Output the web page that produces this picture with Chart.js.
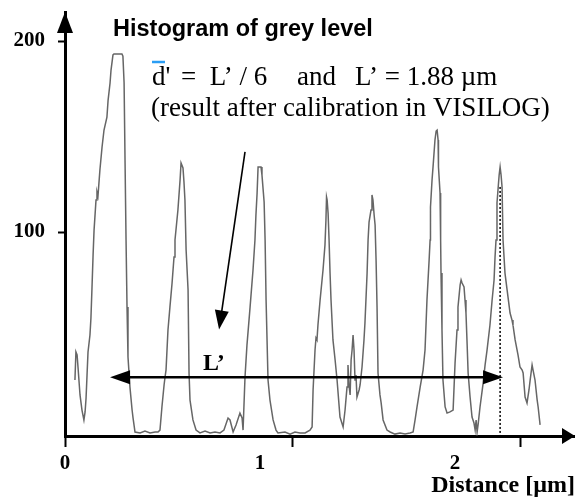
<!DOCTYPE html>
<html>
<head>
<meta charset="utf-8">
<script src="https://cdn.jsdelivr.net/npm/chart.js@4.4.0/dist/chart.umd.min.js"></script>
<style>
  html, body { margin: 0; padding: 0; background: #fff; }
  #wrap { width: 575px; height: 501px; }
</style>
</head>
<body>
<div id="wrap"><canvas id="histo"></canvas></div>
<script>
// profile position, µm
const distance = [
  0.051, 0.056, 0.062, 0.067, 0.077, 0.087, 0.097, 0.103, 0.108, 0.113,
  0.118, 0.128, 0.133, 0.138, 0.144, 0.149, 0.159, 0.164, 0.169, 0.179,
  0.190, 0.200, 0.215, 0.221, 0.231, 0.236, 0.246, 0.251, 0.292, 0.297,
  0.303, 0.308, 0.313, 0.318, 0.323, 0.333, 0.344, 0.349, 0.359, 0.385,
  0.410, 0.436, 0.462, 0.477, 0.487, 0.497, 0.508, 0.513, 0.518, 0.528,
  0.538, 0.549, 0.559, 0.564, 0.579, 0.590, 0.595, 0.605, 0.610, 0.615,
  0.621, 0.631, 0.636, 0.641, 0.656, 0.672, 0.692, 0.718, 0.744, 0.769,
  0.795, 0.815, 0.836, 0.846, 0.862, 0.877, 0.897, 0.908, 0.913, 0.923,
  0.933, 0.949, 0.964, 0.974, 0.979, 0.985, 0.990, 1.005, 1.010, 1.021,
  1.026, 1.031, 1.041, 1.051, 1.067, 1.082, 1.092, 1.128, 1.154, 1.179,
  1.205, 1.231, 1.256, 1.267, 1.272, 1.282, 1.287, 1.292, 1.297, 1.308,
  1.323, 1.333, 1.338, 1.341, 1.344, 1.349, 1.354, 1.359, 1.364, 1.374,
  1.385, 1.395, 1.410, 1.426, 1.436, 1.446, 1.451, 1.456, 1.462, 1.467,
  1.472, 1.477, 1.482, 1.487, 1.492, 1.497, 1.508, 1.513, 1.523, 1.533,
  1.538, 1.549, 1.554, 1.559, 1.569, 1.574, 1.579, 1.585, 1.590, 1.595,
  1.600, 1.605, 1.615, 1.621, 1.631, 1.651, 1.667, 1.692, 1.718, 1.744,
  1.769, 1.785, 1.795, 1.805, 1.821, 1.836, 1.846, 1.856, 1.867, 1.872,
  1.874, 1.882, 1.887, 1.897, 1.903, 1.908, 1.913, 1.915, 1.923, 1.926,
  1.928, 1.933, 1.938, 1.949, 1.959, 1.974, 1.990, 2.000, 2.010, 2.015,
  2.026, 2.031, 2.036, 2.046, 2.051, 2.056, 2.062, 2.067, 2.077, 2.087,
  2.097, 2.103, 2.108, 2.113, 2.118, 2.128, 2.144, 2.154, 2.164, 2.179,
  2.190, 2.200, 2.205, 2.210, 2.215, 2.226, 2.231, 2.236, 2.241, 2.246,
  2.256, 2.267, 2.282, 2.292, 2.297, 2.308, 2.323, 2.333, 2.344, 2.349,
  2.359, 2.369, 2.379, 2.385, 2.395, 2.400, 2.410, 2.421, 2.426, 2.436
];
// grey level at each position
const greyLevel = [
  22.5, 37.2, 35.6, 28.8, 14.7, 6.8, 1.6, 5.8, 13.1, 25.1,
  37.2, 46.1, 55.0, 69.6, 88.0, 101.0, 116.8, 120.9, 118.8, 132.5,
  144.5, 153.4, 160.2, 169.1, 178.0, 184.8, 192.7, 193.2, 193.2, 192.1,
  178.0, 136.1, 95.8, 60.7, 34.6, 18.8, 6.8, 2.6, -4.7, -5.2,
  -4.2, -5.2, -4.7, -4.7, -3.7, 8.4, 19.9, 24.1, 27.7, 48.7,
  60.7, 73.3, 86.9, 95.8, 111.5, 127.2, 136.1, 133.5, 126.2, 116.8,
  90.6, 69.6, 26.2, 12.0, 1.6, -3.7, -5.2, -4.2, -5.2, -4.7,
  -5.2, -3.7, 2.6, 1.6, -4.7, -1.0, 5.2, 2.6, -3.7, 24.1,
  40.8, 60.7, 80.1, 95.8, 108.9, 120.4, 134.0, 134.0, 129.8, 115.7,
  95.8, 64.4, 22.5, 12.0, 1.6, -3.7, -5.2, -4.7, -5.8, -4.7,
  -5.2, -5.2, -3.7, -2.1, 17.3, 38.2, 44.5, 43.5, 51.3, 64.4,
  80.1, 93.2, 106.3, 118.3, 116.8, 109.9, 95.8, 78.5, 64.4, 43.5,
  33.0, 22.5, 3.1, -2.1, 6.8, 18.8, 30.4, 19.9, 14.7, 33.0,
  38.2, 46.1, 38.2, 22.5, 25.1, 13.6, 17.3, 19.9, 29.3, 43.5,
  52.4, 78.5, 95.8, 105.2, 111.5, 119.4, 116.8, 108.9, 103.7, 85.3,
  60.7, 26.2, 14.7, 10.5, 1.6, -3.7, -4.7, -5.8, -5.2, -5.8,
  -5.2, -4.7, 1.6, 8.4, 18.8, 27.7, 38.2, 64.4, 85.3, 95.8,
  113.1, 127.2, 134.0, 148.2, 152.9, 153.4, 148.2, 134.0, 120.4, 95.8,
  78.5, 48.7, 22.5, 8.4, 5.2, 5.8, 6.8, 31.4, 48.7, 60.7,
  72.3, 74.9, 73.3, 71.2, 64.4, 57.6, 40.8, 26.2, 13.6, 3.1,
  0.0, -3.7, 1.6, -4.7, -1.0, 8.4, 20.9, 30.4, 38.2, 51.3,
  64.4, 74.9, 86.9, 95.8, 115.2, 129.8, 134.0, 129.8, 123.6, 95.8,
  78.5, 69.6, 57.6, 53.9, 51.3, 43.5, 35.6, 29.3, 27.7, 26.2,
  13.6, 10.5, 17.3, 22.5, 30.4, 27.7, 22.5, 12.0, 8.4, -1.0
];
const yTicks = [100, 200];
const xTicks = [0, 1, 2];
const xMarks = [1.164, 2.333];   // unlabelled tick marks on the distance axis

// annotation anchors, in data units
const spanL = { from: 0.231, to: 2.246, level: 24 };
const dotted = { at: 2.231, top: 123.6 };
const pointer = { x0: 0.923, y0: 142, x1: 0.790, y1: 49 };

Chart.defaults.font.family = '"Liberation Serif", serif';
Chart.defaults.color = '#000';

function arrowHead(ctx, tipX, tipY, ang, len, half) {
  ctx.beginPath();
  ctx.moveTo(tipX, tipY);
  ctx.lineTo(tipX - len * Math.cos(ang) + half * Math.sin(ang), tipY - len * Math.sin(ang) - half * Math.cos(ang));
  ctx.lineTo(tipX - len * Math.cos(ang) - half * Math.sin(ang), tipY - len * Math.sin(ang) + half * Math.cos(ang));
  ctx.closePath();
  ctx.fill();
}

const annotate = {
  id: 'annotate',
  afterDraw(chart) {
    const { ctx, chartArea: ca, scales: { x, y } } = chart;
    ctx.save();
    ctx.fillStyle = '#000';
    ctx.strokeStyle = '#000';

    // axis arrows
    arrowHead(ctx, ca.left, ca.top, -Math.PI / 2, 21, 8);
    arrowHead(ctx, ca.right, ca.bottom, 0, 13, 8);

    // dotted marker at the last peak
    ctx.lineWidth = 1.5;
    ctx.setLineDash([2, 2]);
    ctx.beginPath();
    ctx.moveTo(x.getPixelForValue(dotted.at), y.getPixelForValue(dotted.top));
    ctx.lineTo(x.getPixelForValue(dotted.at), ca.bottom + 2);
    ctx.stroke();
    ctx.setLineDash([]);

    // L' double arrow
    const ly = y.getPixelForValue(spanL.level);
    const lx0 = x.getPixelForValue(spanL.from), lx1 = x.getPixelForValue(spanL.to);
    ctx.lineWidth = 2.5;
    ctx.beginPath();
    ctx.moveTo(lx0 + 15, ly);
    ctx.lineTo(lx1 - 15, ly);
    ctx.stroke();
    arrowHead(ctx, lx0, ly, Math.PI, 20, 7);
    arrowHead(ctx, lx1, ly, 0, 20, 7);

    // slanted pointer
    const px0 = x.getPixelForValue(pointer.x0), py0 = y.getPixelForValue(pointer.y0);
    const px1 = x.getPixelForValue(pointer.x1), py1 = y.getPixelForValue(pointer.y1);
    const ang = Math.atan2(py1 - py0, px1 - px0);
    ctx.lineWidth = 1.6;
    ctx.beginPath();
    ctx.moveTo(px0, py0);
    ctx.lineTo(px1 - 12 * Math.cos(ang), py1 - 12 * Math.sin(ang));
    ctx.stroke();
    arrowHead(ctx, px1, py1, ang, 19, 7);

    // texts
    ctx.textBaseline = 'alphabetic';
    ctx.textAlign = 'left';
    ctx.font = 'bold 23.5px "Liberation Sans"';
    ctx.fillText('Histogram of grey level', 113, 36);

    ctx.font = '27px "Liberation Serif"';
    ctx.fillText("d'", 152, 85);
    ctx.fillText('=  L\u2019 / 6', 181, 85);
    ctx.fillText('and', 297, 85);
    ctx.fillText('L\u2019 = 1.88 \u00b5m', 355, 85);
    ctx.fillText('(result after calibration in VISILOG)', 151, 116);

    ctx.strokeStyle = '#2a9df4';
    ctx.lineWidth = 2.5;
    ctx.beginPath();
    ctx.moveTo(152, 62);
    ctx.lineTo(165, 62);
    ctx.stroke();

    ctx.font = 'bold 24px "Liberation Serif"';
    ctx.fillText('L\u2019', 203, 370);
    ctx.restore();
  }
};

new Chart(document.getElementById('histo'), {
  type: 'line',
  data: {
    datasets: [{
      label: 'Grey level',
      data: distance.map((d, i) => ({ x: d, y: greyLevel[i] })),
      borderColor: '#666',
      borderWidth: 1.5,
      pointRadius: 0,
      tension: 0,
      fill: false
    }]
  },
  options: {
    responsive: true,
    maintainAspectRatio: false,
    animation: false,
    layout: { padding: { top: 12, right: 0, left: 0, bottom: 0 } },
    plugins: { legend: { display: false }, tooltip: { enabled: false } },
    scales: {
      x: {
        type: 'linear',
        min: 0,
        max: 2.615,
        afterBuildTicks: s => { s.ticks = xTicks.concat(xMarks).sort((a, b) => a - b).map(v => ({ value: v })); },
        afterFit: s => { s.height = 65; s.paddingLeft = 0; s.paddingRight = 0; },
        ticks: {
          autoSkip: false,
          maxRotation: 0,
          padding: 4,
          font: { size: 21, weight: 'bold' },
          callback: v => (xTicks.includes(v) ? String(v) : '')
        },
        grid: {
          drawOnChartArea: false,
          tickLength: 11,
          tickWidth: 2,
          tickColor: c => (c.tick && xTicks.includes(c.tick.value) && c.tick.value !== 0 ? 'rgba(0,0,0,0)' : '#000')
        },
        border: { color: '#000', width: 3 },
        title: {
          display: true,
          text: 'Distance [\u00b5m]',
          align: 'end',
          font: { size: 24, weight: 'bold' },
          padding: { top: 0, bottom: 1 }
        }
      },
      y: {
        min: -6.8,
        max: 215.2,
        afterBuildTicks: s => { s.ticks = yTicks.map(v => ({ value: v })); },
        afterFit: s => { s.width = 65; s.paddingTop = 0; s.paddingBottom = 0; },
        ticks: { padding: 13, font: { size: 21, weight: 'bold' } },
        grid: { drawOnChartArea: false, tickLength: 7, tickWidth: 2, tickColor: '#000' },
        border: { color: '#000', width: 3 }
      }
    }
  },
  plugins: [annotate]
});
</script>
</body>
</html>
